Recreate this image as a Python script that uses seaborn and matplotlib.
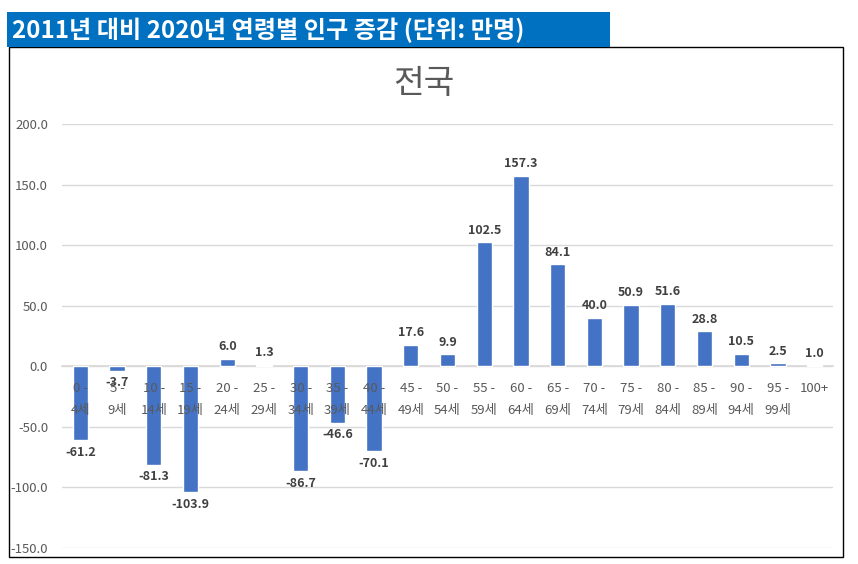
import numpy as np
import matplotlib.pyplot as plt
import seaborn as sns
from matplotlib.patches import Rectangle
from matplotlib.ticker import FormatStrFormatter, MultipleLocator

# 연령대와 인구 증감 (만명)
age_groups = ["0 -\n4세", "5 -\n9세", "10 -\n14세", "15 -\n19세", "20 -\n24세", "25 -\n29세",
              "30 -\n34세", "35 -\n39세", "40 -\n44세", "45 -\n49세", "50 -\n54세", "55 -\n59세",
              "60 -\n64세", "65 -\n69세", "70 -\n74세", "75 -\n79세", "80 -\n84세", "85 -\n89세",
              "90 -\n94세", "95 -\n99세", "100+"]
changes = [-61.2, -3.7, -81.3, -103.9, 6.0, 1.3, -86.7, -46.6, -70.1, 17.6, 9.9, 102.5,
           157.3, 84.1, 40.0, 50.9, 51.6, 28.8, 10.5, 2.5, 1.0]

sns.set_theme(style="white")
plt.rcParams['font.family'] = ['Noto Sans CJK KR', 'DejaVu Sans']

W, H = 858, 564
fig = plt.figure(figsize=(W / 100, H / 100), dpi=100)
ax = fig.add_axes([62 / W, 1 - 548 / H, (833 - 62) / W, (548 - 124) / H])

sns.barplot(x=age_groups, y=changes, color="#4472C4", saturation=1, width=0.42, ax=ax)
ax.bar_label(ax.containers[0], fmt='%.1f', padding=4, fontsize=9, fontweight='bold', color='#404040')

ax.set_ylim(-150, 200)
ax.set_xlim(-0.5, len(age_groups) - 0.5)
ax.yaxis.set_major_locator(MultipleLocator(50))
ax.yaxis.set_major_formatter(FormatStrFormatter('%.1f'))
ax.grid(axis='y', color='#D9D9D9', linewidth=1)
ax.set_axisbelow(True)
# x축 라벨은 막대 위에 보이도록
ax.xaxis.set_zorder(3)
for s in ['left', 'right', 'top']:
    ax.spines[s].set_visible(False)
ax.spines['bottom'].set_position(('data', 0))
ax.spines['bottom'].set_color('#D9D9D9')
ax.spines['bottom'].set_zorder(0.5)
ax.tick_params(axis='x', length=0, pad=11, labelsize=9.5, labelcolor='#595959')
ax.tick_params(axis='y', length=0, pad=10, labelsize=9.5, labelcolor='#595959')
for lbl in ax.get_xticklabels():
    lbl.set_linespacing(1.9)
ax.set_xlabel("")
ax.set_ylabel("")

# 차트 테두리와 상단 제목 띠
fig.patches.append(Rectangle((9 / W, 1 - 557 / H), (843 - 9) / W, (557 - 47) / H,
                             transform=fig.transFigure, fill=False, edgecolor='black', linewidth=1))
fig.patches.append(Rectangle((7 / W, 1 - 47 / H), (610 - 7) / W, 35 / H,
                             transform=fig.transFigure, facecolor='#0070C0', edgecolor='none'))
fig.text(12 / W, 1 - 30 / H, "2011년 대비 2020년 연령별 인구 증감 (단위: 만명)", color='white',
         fontsize=17.4, fontweight='bold', va='center', ha='left')
fig.text(424 / W, 1 - 83 / H, "전국", color='#595959', fontsize=24, ha='center', va='center')

fig.savefig("out.png", dpi=100)
